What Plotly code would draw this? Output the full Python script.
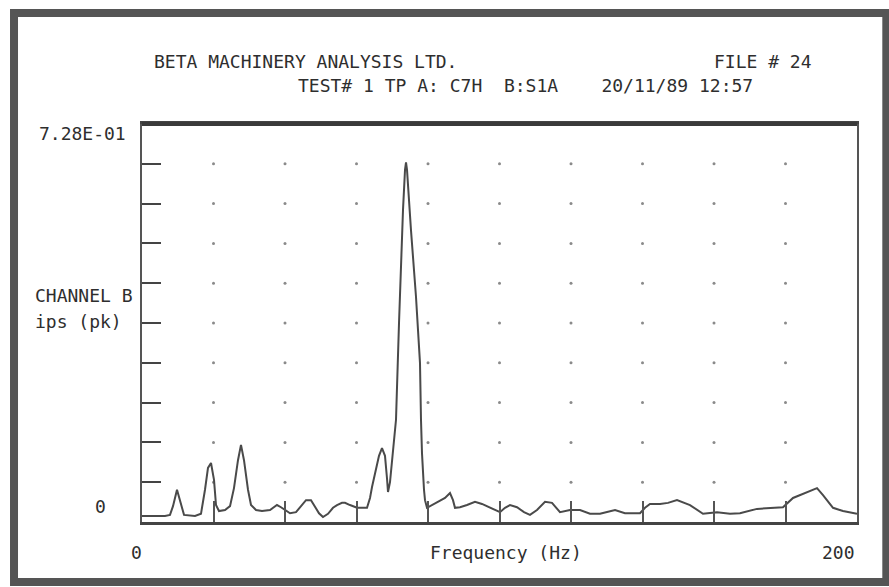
import plotly.graph_objects as go

# Spectrum: frequency (Hz) vs channel B velocity (ips pk)
freq_hz = [
    0.0, 2.24, 6.43, 7.83, 8.67, 9.79, 10.91, 11.75, 14.83, 16.50,
    17.62, 18.46, 19.30, 20.14, 20.70, 21.54, 23.22, 24.62, 25.73, 26.85,
    27.69, 28.53, 29.65, 30.49, 31.89, 33.57, 35.80, 36.92, 37.76, 38.88,
    40.00, 41.40, 43.08, 44.48, 45.87, 47.27, 48.39, 49.51, 50.63, 52.03,
    53.43, 54.55, 55.94, 56.78, 58.18, 60.14, 62.94, 63.78, 64.34, 65.45,
    66.29, 67.13, 67.97, 68.53, 68.81, 69.37, 69.93, 70.49, 71.05, 71.89,
    72.45, 73.01, 73.57, 73.85, 74.13, 74.41, 75.24, 76.64, 77.76, 78.04,
    78.32, 78.88, 79.16, 79.72, 81.12, 82.52, 83.64, 84.76, 86.15, 86.99,
    87.55, 88.95, 90.91, 93.15, 95.10, 97.34, 100.14, 101.54, 102.94, 104.90,
    106.85, 108.53, 110.49, 112.73, 114.69, 116.92, 119.72, 122.52, 125.31, 128.11,
    130.35, 132.31, 135.10, 139.30, 140.70, 142.10, 144.90, 147.13, 149.65, 153.29,
    156.92, 160.84, 164.48, 167.27, 172.03, 176.50, 179.30, 182.10, 184.06, 186.01,
    187.41, 188.81, 190.49, 193.29, 196.08, 198.88, 200.0,
]
amp_ips = [
    0.011, 0.011, 0.011, 0.013, 0.029, 0.059, 0.031, 0.013, 0.011, 0.015,
    0.059, 0.099, 0.108, 0.077, 0.031, 0.020, 0.022, 0.029, 0.062, 0.113,
    0.141, 0.113, 0.059, 0.031, 0.022, 0.020, 0.022, 0.027, 0.031, 0.027,
    0.022, 0.016, 0.018, 0.029, 0.040, 0.040, 0.029, 0.016, 0.009, 0.015,
    0.026, 0.031, 0.035, 0.035, 0.031, 0.026, 0.026, 0.044, 0.064, 0.099,
    0.121, 0.135, 0.121, 0.080, 0.055, 0.073, 0.113, 0.150, 0.187, 0.364,
    0.474, 0.571, 0.644, 0.658, 0.644, 0.620, 0.534, 0.412, 0.291, 0.187,
    0.126, 0.059, 0.040, 0.026, 0.031, 0.037, 0.040, 0.044, 0.053, 0.040,
    0.026, 0.027, 0.031, 0.037, 0.033, 0.026, 0.018, 0.026, 0.031, 0.027,
    0.018, 0.013, 0.022, 0.037, 0.035, 0.018, 0.022, 0.022, 0.015, 0.015,
    0.018, 0.022, 0.016, 0.016, 0.026, 0.033, 0.033, 0.035, 0.040, 0.031,
    0.015, 0.018, 0.015, 0.016, 0.024, 0.026, 0.027, 0.044, 0.049, 0.055,
    0.059, 0.062, 0.049, 0.026, 0.020, 0.016, 0.015,
]

y_top = 0.728
x_ticks = [0, 20, 40, 60, 80, 100, 120, 140, 160, 180, 200]
y_ticks = [y_top * k / 10 for k in range(11)]

INK = "#2e2e2e"
FONT = dict(family="DejaVu Sans Mono", size=18, color=INK)

fig = go.Figure()

# dotted grid: one dot at each inner tick crossing
gx, gy = [], []
for xv in x_ticks[1:-1]:
    for yv in y_ticks[1:-1]:
        gx.append(xv)
        gy.append(yv)
fig.add_trace(go.Scatter(x=gx, y=gy, mode="markers", hoverinfo="skip",
                         marker=dict(color="#8a8a8a", size=3), showlegend=False))

fig.add_trace(go.Scatter(x=freq_hz, y=amp_ips, mode="lines",
                         line=dict(color="#4a4a4a", width=2), showlegend=False))

fig.update_layout(
    width=889, height=587, autosize=False,
    paper_bgcolor="white", plot_bgcolor="white",
    margin=dict(l=142, r=32, t=124, b=65),
    xaxis=dict(range=[0, 200], tickvals=x_ticks, ticks="inside", ticklen=21,
               tickwidth=1.5, tickcolor="#555", showticklabels=False,
               showgrid=False, zeroline=False, showline=True, linewidth=3,
               linecolor="#444", mirror=True),
    yaxis=dict(range=[0, y_top], tickvals=y_ticks, ticks="inside", ticklen=19,
               tickwidth=2, tickcolor="#444", showticklabels=False,
               showgrid=False, zeroline=False, showline=True, linewidth=2,
               linecolor="#555", mirror=True),
)

# thick top border of the plot and the outer frame of the printout
fig.add_shape(type="line", xref="paper", yref="paper", x0=0, x1=1, y0=1, y1=1,
              line=dict(color="#3a3a3a", width=4))
fig.add_shape(type="rect", xref="paper", yref="paper",
              x0=-0.179, x1=1.041, y0=-0.151, y1=1.279,
              line=dict(color="#555", width=8))

def note(text, x, y, xa="left"):
    fig.add_annotation(text=text, x=x, y=y, xref="paper", yref="paper",
                       xanchor=xa, yanchor="middle", showarrow=False, font=FONT)

note("BETA MACHINERY ANALYSIS LTD.", 0.014, 1.156)
note("FILE # 24", 0.797, 1.156)
note("TEST# 1 TP A: C7H  B:S1A    20/11/89 12:57", 0.2154, 1.0955)
note("7.28E-01", -0.0196, 0.977, "right")
note("CHANNEL B", -0.1524, 0.568)
note("ips (pk)", -0.1524, 0.505)
note("0", -0.0476, 0.0377, "right")
note("0", -0.007, -0.0754, "center")
note("Frequency (Hz)", 0.4, -0.0754)
note("200", 1.0, -0.0754, "right")

fig.write_html("out.html", config={"displayModeBar": False},
               post_script="document.body.style.margin='0';document.body.style.overflow='hidden';")
